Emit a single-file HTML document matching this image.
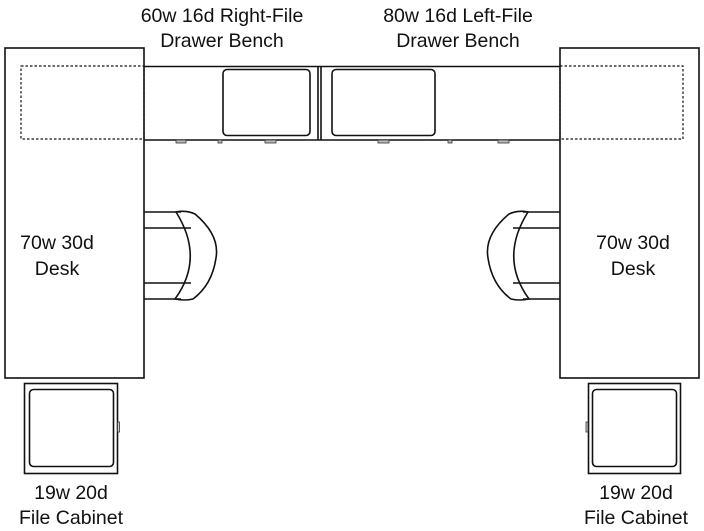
<!DOCTYPE html>
<html><head><meta charset="utf-8"><style>
html,body{margin:0;padding:0;background:#fff;width:704px;height:531px;overflow:hidden}
svg{display:block}
text{font-family:"Liberation Sans",sans-serif;font-size:19.5px;fill:#111;text-anchor:middle}
</style></head><body>
<svg width="704" height="531" viewBox="0 0 704 531" xmlns="http://www.w3.org/2000/svg">
<g fill="none" stroke="#111" stroke-width="1.6">
<line x1="144" y1="66.5" x2="560" y2="66.5"/>
<line x1="144" y1="140" x2="560" y2="140"/>
<line x1="318" y1="66" x2="318" y2="140"/>
<line x1="321" y1="66" x2="321" y2="140"/>
<rect x="223" y="69.5" width="87" height="66" rx="4"/>
<rect x="332" y="69.5" width="103" height="66" rx="4"/>
<rect x="5" y="48" width="139" height="330"/>
<rect x="560" y="48" width="139" height="330"/>
</g>
<g fill="none" stroke="#111" stroke-width="1.2" stroke-dasharray="2.5,2">
<rect x="21" y="66" width="123" height="73"/>
<rect x="560" y="66" width="123" height="73"/>
</g>
<g fill="#bbb" stroke="#333" stroke-width="0.8">
<rect x="176" y="140" width="10" height="3"/>
<rect x="218" y="140" width="4" height="3"/>
<rect x="265" y="140" width="11" height="3"/>
<rect x="378" y="140" width="11" height="3"/>
<rect x="448" y="140" width="4" height="3"/>
<rect x="498" y="140" width="11" height="3"/>
</g>
<g fill="none" stroke="#111" stroke-width="1.6">
<path d="M144 212 H181 M144 228 H191 M144 283 H191 M144 299 H181"/>
<path d="M176 212 Q186 210 195 214 Q220 235 216 258 Q212 285 193 299 Q185 301 175 299 Q205 258 176 212 Z"/>
<path d="M560 212 H523 M560 228 H513 M560 283 H513 M560 299 H523"/>
<path d="M528 212 Q518 210 509 214 Q484 235 488 258 Q492 285 511 299 Q519 301 529 299 Q499 258 528 212 Z"/>
</g>
<g fill="none" stroke="#111" stroke-width="1.6">
<rect x="24.5" y="383.5" width="93" height="90"/>
<rect x="29.5" y="389.5" width="84" height="77" rx="4"/>
<rect x="588.5" y="383.5" width="92" height="90"/>
<rect x="592.5" y="389.5" width="84" height="77" rx="4"/>
</g>
<g fill="#ccc" stroke="#333" stroke-width="0.8">
<rect x="117.5" y="422" width="2" height="10"/>
<rect x="586" y="422" width="2" height="10"/>
</g>
<text x="222" y="22">60w 16d Right-File</text>
<text x="222" y="47">Drawer Bench</text>
<text x="458" y="22">80w 16d Left-File</text>
<text x="458" y="47">Drawer Bench</text>
<text x="57" y="249">70w 30d</text>
<text x="57" y="275">Desk</text>
<text x="633" y="249">70w 30d</text>
<text x="633" y="275">Desk</text>
<text x="71" y="499">19w 20d</text>
<text x="71" y="524">File Cabinet</text>
<text x="636" y="499">19w 20d</text>
<text x="636" y="524">File Cabinet</text>
</svg>
</body></html>
